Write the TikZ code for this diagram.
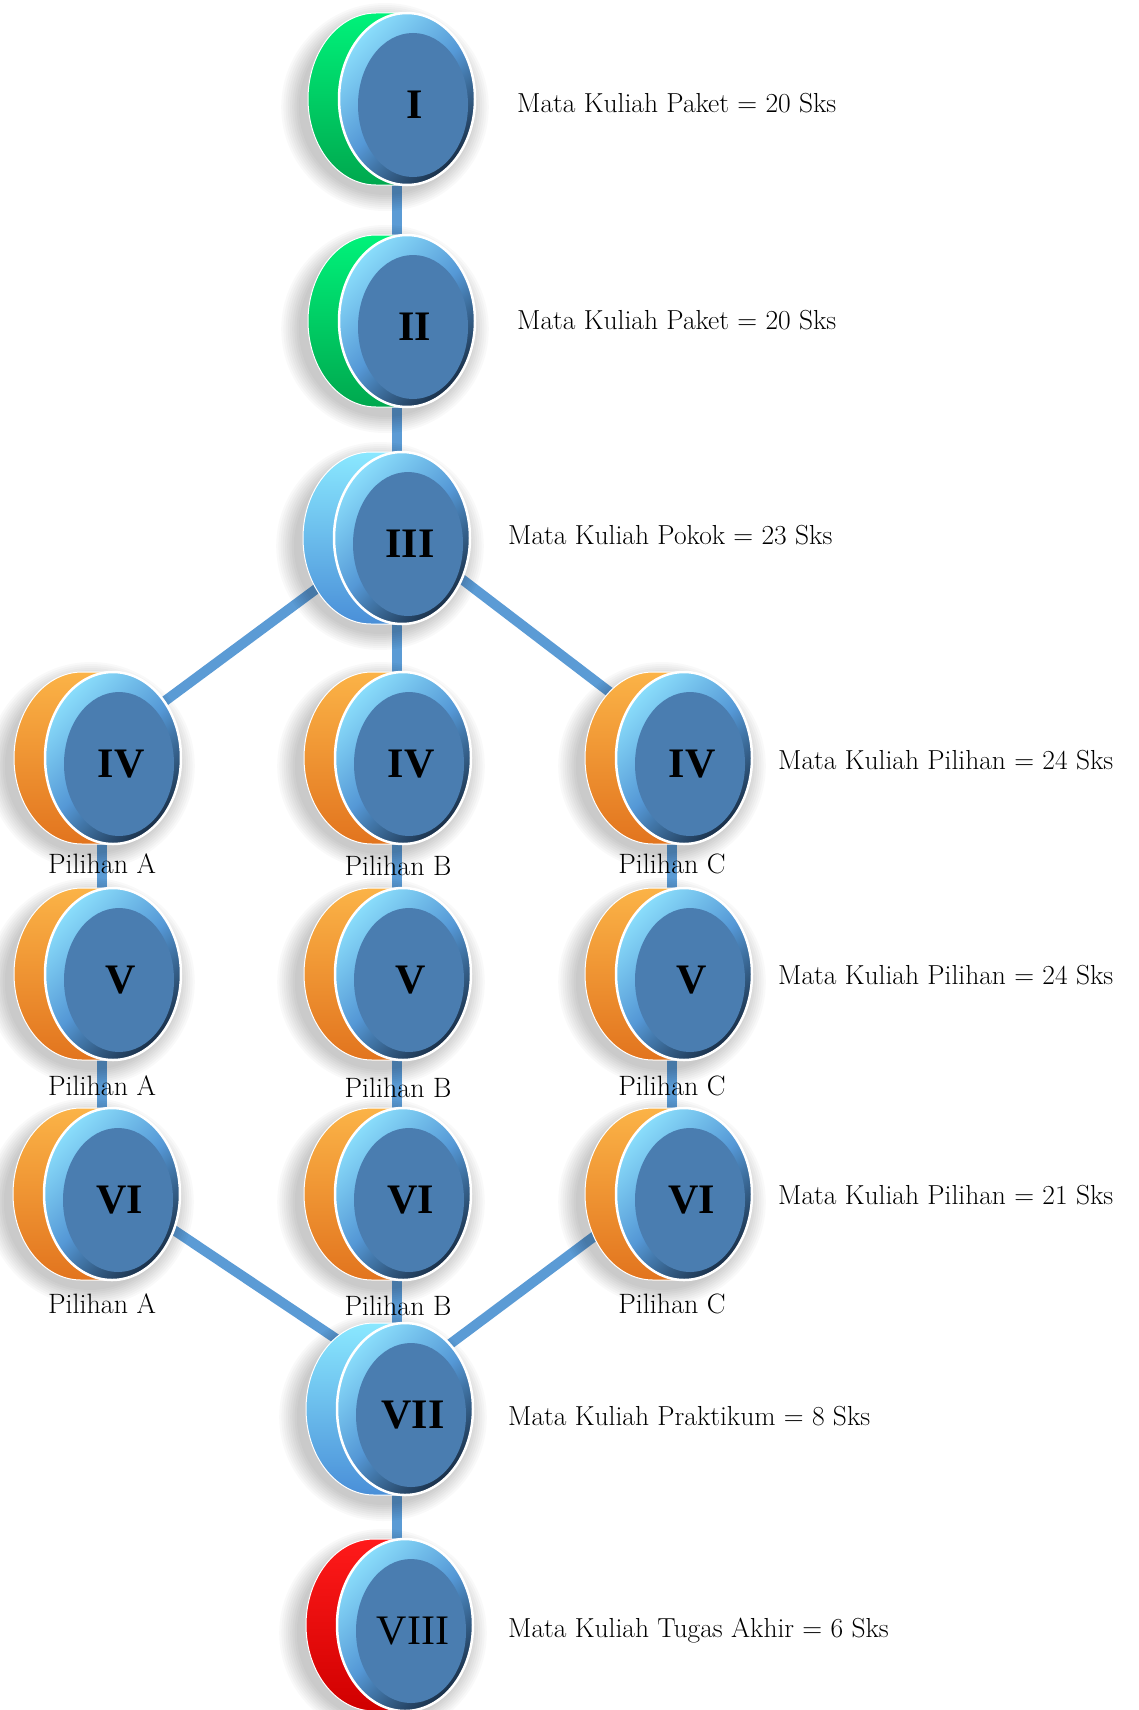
\documentclass[tikz,border=0pt]{standalone}
\usepackage{fontspec}
\newfontfamily\numfont{Liberation Serif}
\usetikzlibrary{calc}
\definecolor{conn}{HTML}{5B9BD5}
\definecolor{innerc}{HTML}{4A7DB0}
\definecolor{ringlight}{HTML}{8ADDFB}
\definecolor{ringmid}{HTML}{5598D6}
\definecolor{ringdark}{HTML}{1A3049}
\definecolor{greenT}{HTML}{00F27A}
\definecolor{greenB}{HTML}{00A84E}
\definecolor{orangeT}{HTML}{FBB347}
\definecolor{orangeB}{HTML}{E2741E}
\definecolor{redT}{HTML}{FF1A1A}
\definecolor{redB}{HTML}{D00000}
\definecolor{blueT}{HTML}{8AE8FF}
\definecolor{blueB}{HTML}{4A8FD8}
\tikzset{
  connector/.style={conn, line width=10},
  numeral/.style={font=\numfont\fontsize{42}{42}\selectfont\bfseries, inner sep=0},
  numeralplain/.style={font=\numfont\fontsize{42}{42}\selectfont, inner sep=0},
  desc/.style={font=\fontsize{27.5}{27.5}\selectfont, anchor=base west, inner sep=0},
  pil/.style={font=\fontsize{28}{28}\selectfont, anchor=base, inner sep=0},
}
% #1 name, #2 x, #3 y, #4 side top colour, #5 side bottom colour, #6 numeral style, #7 numeral
\newcommand{\mydisc}[7]{%
\begin{scope}[shift={(#2,#3)}]
  \foreach \k in {1,...,9}
    \fill[black,opacity=0.022] (-22,8) ellipse[x radius=84+2.2*\k, y radius=86+2*\k];
  \shade[top color=#4, bottom color=#5, draw=white, line width=1]
    (-31,-86) -- (0,-86) -- (0,86) -- (-31,86)
    arc[start angle=90, end angle=270, x radius=68, y radius=86] -- cycle;
  \shade[top color=ringlight, bottom color=ringdark, middle color=ringmid,
         shading angle=45, draw=white, line width=2.5]
    (0,0) ellipse[x radius=68, y radius=86];
  \fill[innerc] (6,6) ellipse[x radius=55, y radius=72];
  \node[#6] (#1) at (8,6) {#7};
\end{scope}}
\begin{document}
\begin{tikzpicture}[x=1pt,y=-1pt]
\useasboundingbox (0,0) rectangle (1138,1710);
\fill[white] (0,0) rectangle (1138,1710);
% connection points
\coordinate (pI) at (397,99);
\coordinate (pII) at (397,321);
\coordinate (pIII) at (397,538);
\coordinate (pIVA) at (102,758);
\coordinate (pIVB) at (397,758);
\coordinate (pIVC) at (672,758);
\coordinate (pVA) at (102,974);
\coordinate (pVB) at (397,974);
\coordinate (pVC) at (672,974);
\coordinate (pVIA) at (102,1194);
\coordinate (pVIB) at (397,1194);
\coordinate (pVIC) at (672,1194);
\coordinate (pVII) at (397,1409);
\coordinate (pVIII) at (397,1625);
\coordinate (dIIIl) at (385,538);
\coordinate (dIVA) at (88,758);
\coordinate (dIIIr) at (408,538);
\coordinate (dIVC) at (696,758);
\coordinate (dVIA) at (120,1194);
\coordinate (dVIIl) at (441,1409);
\coordinate (dVIC) at (651,1194);
\coordinate (dVIIr) at (363,1409);
% connectors
\draw[connector] (pI) -- (pII);
\draw[connector] (pII) -- (pIII);
\draw[connector] (pIII) -- (pIVB);
\draw[connector] (pIVB) -- (pVB);
\draw[connector] (pVB) -- (pVIB);
\draw[connector] (pVIB) -- (pVII);
\draw[connector] (pVII) -- (pVIII);
\draw[connector] (pIVA) -- (pVA);
\draw[connector] (pVA) -- (pVIA);
\draw[connector] (pIVC) -- (pVC);
\draw[connector] (pVC) -- (pVIC);
\draw[connector] (dIIIl) -- (dIVA);
\draw[connector] (dIIIr) -- (dIVC);
\draw[connector] (dVIA) -- (dVIIl);
\draw[connector] (dVIC) -- (dVIIr);
% discs
\mydisc{nI}{407}{99}{greenT}{greenB}{numeral}{I}
\mydisc{nII}{407}{321}{greenT}{greenB}{numeral}{II}
\mydisc{nIII}{402}{538}{blueT}{blueB}{numeral}{III}
\mydisc{nIVA}{113}{758}{orangeT}{orangeB}{numeral}{IV}
\mydisc{nIVB}{403}{758}{orangeT}{orangeB}{numeral}{IV}
\mydisc{nIVC}{684}{758}{orangeT}{orangeB}{numeral}{IV}
\mydisc{nVA}{113}{974}{orangeT}{orangeB}{numeral}{V}
\mydisc{nVB}{403}{974}{orangeT}{orangeB}{numeral}{V}
\mydisc{nVC}{684}{974}{orangeT}{orangeB}{numeral}{V}
\mydisc{nVIA}{112}{1194}{orangeT}{orangeB}{numeral}{VI}
\mydisc{nVIB}{403}{1194}{orangeT}{orangeB}{numeral}{VI}
\mydisc{nVIC}{684}{1194}{orangeT}{orangeB}{numeral}{VI}
\mydisc{nVII}{405}{1409}{blueT}{blueB}{numeral}{VII}
\mydisc{nVIII}{405}{1625}{redT}{redB}{numeralplain}{VIII}
% descriptions
\node[desc] (tI) at (517,112) {Mata Kuliah Paket = 20 Sks};
\node[desc] (tII) at (517,329) {Mata Kuliah Paket = 20 Sks};
\node[desc] (tIII) at (508,544) {Mata Kuliah Pokok = 23 Sks};
\node[desc] (tIV) at (778,769) {Mata Kuliah Pilihan = 24 Sks};
\node[desc] (tV) at (778,984) {Mata Kuliah Pilihan = 24 Sks};
\node[desc] (tVI) at (778,1204) {Mata Kuliah Pilihan = 21 Sks};
\node[desc] (tVII) at (508,1425) {Mata Kuliah Praktikum = 8 Sks};
\node[desc] (tVIII) at (508,1637) {Mata Kuliah Tugas Akhir = 6 Sks};
% Pilihan labels
\node[pil] (lIVA) at (102,873) {Pilihan A};
\node[pil] (lIVB) at (398,875) {Pilihan B};
\node[pil] (lIVC) at (672,873) {Pilihan C};
\node[pil] (lVA) at (102,1095) {Pilihan A};
\node[pil] (lVB) at (398,1097) {Pilihan B};
\node[pil] (lVC) at (672,1095) {Pilihan C};
\node[pil] (lVIA) at (102,1313) {Pilihan A};
\node[pil] (lVIB) at (398,1315) {Pilihan B};
\node[pil] (lVIC) at (672,1313) {Pilihan C};
\end{tikzpicture}
\end{document}
